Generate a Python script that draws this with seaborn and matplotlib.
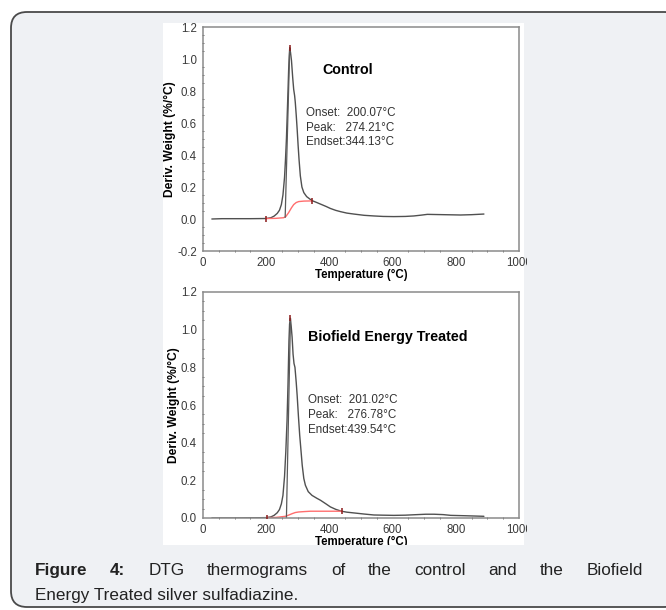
import numpy as np
import pandas as pd
import matplotlib
matplotlib.use("Agg")
import matplotlib.pyplot as plt
import seaborn as sns
from matplotlib.patches import FancyBboxPatch, Rectangle
from matplotlib.ticker import MultipleLocator
from matplotlib.transforms import Bbox

sns.set_theme(style="white")
plt.rcParams["font.family"] = ["Liberation Sans", "DejaVu Sans"]

# ---------------- data ----------------
control_temp = [28, 60, 100, 150, 200, 215, 225, 235, 242, 248, 253, 258, 261, 264, 266, 269, 271, 273,
                274.5, 277, 280, 284, 287, 290, 292, 295, 298, 301, 304, 308, 313, 319, 328, 340, 345,
                360, 372, 390, 403, 420, 435, 455, 477, 510, 541, 570, 604, 640, 667, 690, 710, 735,
                762, 790, 815, 850, 889]
control_dtg = [0.0, 0.002, 0.002, 0.002, 0.003, 0.008, 0.018, 0.035, 0.055, 0.09, 0.15, 0.26, 0.37, 0.5,
               0.62, 0.8, 0.93, 1.02, 1.07, 1.04, 0.99, 0.88, 0.81, 0.77, 0.73, 0.65, 0.56, 0.46, 0.37,
               0.27, 0.2, 0.165, 0.14, 0.122, 0.115, 0.103, 0.093, 0.078, 0.066, 0.054, 0.046, 0.037,
               0.031, 0.023, 0.019, 0.016, 0.015, 0.016, 0.019, 0.024, 0.029, 0.028, 0.027, 0.026,
               0.025, 0.027, 0.031]
control_base_temp = [200, 230, 255, 262, 271, 280, 287, 295, 303, 320, 344]
control_base_dtg = [0.003, 0.004, 0.008, 0.015, 0.04, 0.07, 0.09, 0.103, 0.109, 0.112, 0.113]
control_tangent_temp = [260, 274.5]
control_tangent_dtg = [0.01, 1.07]
control_marks_temp = [200.07, 274.21, 344.13]
control_marks_dtg = [0.003, 1.07, 0.113]

treated_temp = [28, 60, 100, 150, 200, 215, 225, 235, 242, 248, 253, 258, 262, 266, 269, 272, 274,
                276.5, 279, 282, 285, 288, 291, 295, 298, 302, 306, 310, 314, 319, 324, 333, 345, 360,
                372, 390, 403, 420, 438, 455, 477, 510, 541, 570, 604, 640, 678, 705, 731, 760, 784,
                830, 889]
treated_dtg = [0.0, 0.0, 0.0, 0.001, 0.002, 0.006, 0.014, 0.028, 0.045, 0.075, 0.12, 0.22, 0.35, 0.52,
               0.71, 0.94, 1.03, 1.06, 1.02, 0.96, 0.87, 0.82, 0.8, 0.72, 0.65, 0.54, 0.44, 0.36, 0.28,
               0.21, 0.174, 0.14, 0.12, 0.105, 0.094, 0.074, 0.059, 0.046, 0.036, 0.031, 0.027, 0.021,
               0.016, 0.015, 0.014, 0.015, 0.018, 0.02, 0.02, 0.018, 0.014, 0.012, 0.009]
treated_base_temp = [201, 230, 261, 272, 282, 292, 303, 320, 340, 439.5]
treated_base_dtg = [0.002, 0.003, 0.009, 0.016, 0.023, 0.029, 0.032, 0.034, 0.036, 0.036]
treated_tangent_temp = [264, 276.8]
treated_tangent_dtg = [0.0, 1.06]
treated_marks_temp = [201.02, 276.78, 439.54]
treated_marks_dtg = [0.002, 1.06, 0.036]

panel_titles = ["Control", "Biofield Energy Treated"]
panel_notes = ["Onset:  200.07°C\nPeak:   274.21°C\nEndset:344.13°C",
               "Onset:  201.02°C\nPeak:   276.78°C\nEndset:439.54°C"]
x_ticks = [0, 200, 400, 600, 800, 1000]
x_label = "Temperature (°C)"
y_label = "Deriv. Weight (%/°C)"
caption_bold = ["Figure", "4:"]
caption_line1 = ["DTG", "thermograms", "of", "the", "control", "and", "the", "Biofield"]
caption_line2 = "Energy Treated silver sulfadiazine."

# ---------------- figure ----------------
W, H = 666, 610
fig = plt.figure(figsize=(W / 100, H / 100), dpi=100)
fig.patch.set_facecolor("white")
inch = fig.dpi_scale_trans

outer = FancyBboxPatch((0.11, (H - 607) / 100), 6.8 - 0.11, (607 - 12) / 100,
                       boxstyle="round,pad=0,rounding_size=0.16", transform=inch,
                       fc="#eff1f4", ec="#4a4a4a", lw=1.3, zorder=-2)
fig.patches.append(outer)
panel = Rectangle((1.63, (H - 545) / 100), 3.61, 5.22, transform=inch,
                  fc="white", ec="none", zorder=-1)
fig.patches.append(panel)
clip_bb = Bbox.from_extents(160, H - 545, 527, H - 18)

ax1 = fig.add_axes([203 / W, 1 - 251 / H, 316 / W, 224 / H])
ax2 = fig.add_axes([203 / W, 1 - 518 / H, 316 / W, 226 / H])

datasets = [
    (ax1, control_temp, control_dtg, control_base_temp, control_base_dtg, control_tangent_temp,
     control_tangent_dtg, control_marks_temp, control_marks_dtg, (-0.2, 1.2),
     [-0.2, 0.0, 0.2, 0.4, 0.6, 0.8, 1.0, 1.2], (457, 0.933), (326, 0.569)),
    (ax2, treated_temp, treated_dtg, treated_base_temp, treated_base_dtg, treated_tangent_temp,
     treated_tangent_dtg, treated_marks_temp, treated_marks_dtg, (0.0, 1.2),
     [0.0, 0.2, 0.4, 0.6, 0.8, 1.0, 1.2], (585, 0.963), (333, 0.547)),
]

for i, (ax, t, d, bt, bd, tt, td, mt, md, ylim, yt, tpos, npos) in enumerate(datasets):
    ax.set_facecolor("none")
    df = pd.DataFrame({"T": t, "D": d})
    sns.lineplot(data=df, x="T", y="D", ax=ax, color="#505050", lw=1.0, sort=False)
    dfb = pd.DataFrame({"T": bt, "D": bd})
    sns.lineplot(data=dfb, x="T", y="D", ax=ax, color="#ff6e6e", lw=1.0, sort=False)
    dft = pd.DataFrame({"T": tt, "D": td})
    sns.lineplot(data=dft, x="T", y="D", ax=ax, color="#5a5a5a", lw=0.9, sort=False)
    dfm = pd.DataFrame({"T": mt, "D": md})
    sns.scatterplot(data=dfm, x="T", y="D", ax=ax, marker="|", s=25, color="#8b1a1a",
                    linewidth=1.1, zorder=5)
    ax.set_xlim(0, 1000)
    ax.set_ylim(*ylim)
    ax.set_xticks(x_ticks)
    ax.set_xticklabels([str(v) for v in x_ticks])
    ax.set_yticks(yt)
    ax.set_yticklabels([f"{v:.1f}" for v in yt])
    ax.xaxis.set_minor_locator(MultipleLocator(50))
    ax.yaxis.set_minor_locator(MultipleLocator(0.05))
    ax.tick_params(axis="both", which="major", labelsize=8.3, colors="#3a3a3a", length=3,
                   width=0.8, pad=1.5, direction="out")
    ax.tick_params(axis="both", which="minor", length=2, width=0.7, color="#707070",
                   direction="inout", bottom=True, left=True)
    for s in ax.spines.values():
        s.set_color("#8a8a8a")
        s.set_linewidth(1.1)
        s.set_visible(True)
    ax.set_xlabel(x_label, fontsize=8.3, fontweight="bold", color="black", labelpad=0)
    ax.set_ylabel(y_label, fontsize=8.7, fontweight="bold", color="black", labelpad=0.5)
    ax.text(tpos[0], tpos[1], panel_titles[i], ha="center", va="center", fontsize=10.3,
            fontweight="bold", color="black")
    ax.text(npos[0], npos[1], panel_notes[i], ha="left", va="center", fontsize=8.4,
            color="#333333", linespacing=1.28)

# ---------------- caption ----------------
cap_font = ["Liberation Sans", "DejaVu Sans"]
cap_size = 12.3
fig.canvas.draw()
renderer = fig.canvas.get_renderer()

for ax in (ax1, ax2):
    for lab in ax.get_xticklabels() + ax.get_yticklabels() + [ax.xaxis.label, ax.yaxis.label]:
        lab.set_clip_on(True)
        lab.set_clip_box(clip_bb)

words = [(w, "bold") for w in caption_bold] + [(w, "normal") for w in caption_line1]
texts = []
x0_px, x1_px = 35, 643
y1 = (H - 575) / H
for w, wt in words:
    tx = fig.text(0, y1, w, fontsize=cap_size, fontweight=wt, family=cap_font,
                  color="#222222", ha="left", va="baseline")
    texts.append(tx)
widths = [tx.get_window_extent(renderer).width for tx in texts]
gap = (x1_px - x0_px - sum(widths)) / (len(texts) - 1)
xc = x0_px
for tx, wdt in zip(texts, widths):
    tx.set_x(xc / W)
    xc += wdt + gap

fig.text(x0_px / W, (H - 600) / H, caption_line2, fontsize=cap_size, family=cap_font,
         color="#222222", ha="left", va="baseline")

fig.savefig("out.png", dpi=100, facecolor=fig.get_facecolor())
